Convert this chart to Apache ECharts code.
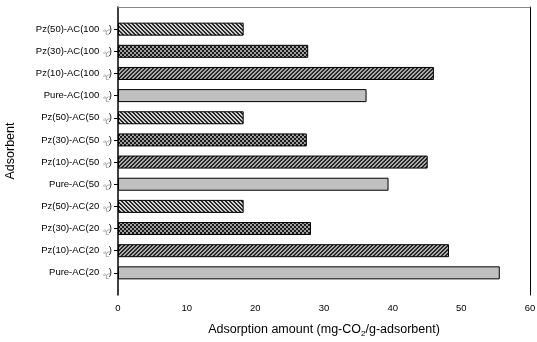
<!DOCTYPE html>
<html>
<head>
<meta charset="utf-8">
<script src="https://cdn.jsdelivr.net/npm/echarts@6/dist/echarts.min.js"></script>
<style>
html, body { margin: 0; padding: 0; background: #fff; }
#main { width: 537px; height: 342px; }
</style>
</head>
<body>
<div id="main"></div>
<script>
// categories, bottom to top
var categories = [
	'Pure-AC(20℃)', 'Pz(10)-AC(20℃)', 'Pz(30)-AC(20℃)', 'Pz(50)-AC(20℃)',
	'Pure-AC(50℃)', 'Pz(10)-AC(50℃)', 'Pz(30)-AC(50℃)', 'Pz(50)-AC(50℃)',
	'Pure-AC(100℃)', 'Pz(10)-AC(100℃)', 'Pz(30)-AC(100℃)', 'Pz(50)-AC(100℃)'
];
var adsorption = [55.6, 48.2, 28.1, 18.3, 39.4, 45.1, 27.5, 18.3, 36.2, 46.0, 27.7, 18.3];
var fillKind = ['pure', 'pz10', 'pz30', 'pz50', 'pure', 'pz10', 'pz30', 'pz50', 'pure', 'pz10', 'pz30', 'pz50'];
var xTicks = [0, 10, 20, 30, 40, 50, 60];

// 패턴 만들기
function makePattern(kind) {
	var c = document.createElement('canvas');
	c.width = 4; c.height = 4;
	var ctx = c.getContext('2d');
	var bg = { pz10: '#a8a8a8', pz30: '#a0a0a0', pz50: '#d0d0d0' }[kind];
	var fg = { pz10: '#2a2a2a', pz30: '#1a1a1a', pz50: '#2a2a2a' }[kind];
	ctx.fillStyle = bg;
	ctx.fillRect(0, 0, 4, 4);
	ctx.fillStyle = fg;
	for (var x = 0; x < 4; x++) {
		for (var y = 0; y < 4; y++) {
			var on = false;
			if (kind === 'pz10') on = ((x + y) % 4) < 2;
			if (kind === 'pz50') on = ((x - y + 8) % 4) < 2;
			if (kind === 'pz30') on = ((Math.floor(x / 2) + Math.floor(y / 2)) % 2) === 0;
			if (on) ctx.fillRect(x, y, 1, 1);
		}
	}
	return { image: c, repeat: 'repeat' };
}

var fills = {
	pure: '#c0c0c0',
	pz10: makePattern('pz10'),
	pz30: makePattern('pz30'),
	pz50: makePattern('pz50')
};

var yData = [''].concat(categories).concat(['']);
var barData = [null].concat(adsorption.map(function (v, i) {
	return { value: v, itemStyle: { color: fills[fillKind[i]] } };
})).concat([null]);

var myChart = echarts.init(document.getElementById('main'));

var option = {
	animation: false,
	grid: { left: 118, right: 7, top: 7, bottom: 47, containLabel: false, outerBoundsMode: 'none' },
	xAxis: [{
		type: 'value',
		min: 0, max: 60, interval: 10,
		name: '{a|Adsorption amount (mg-CO}{s|2}{a|/g-adsorbent)}',
		nameLocation: 'middle',
		nameGap: 27,
		nameTextStyle: {
			rich: {
				a: { fontSize: 12.5, color: '#000', fontFamily: 'Liberation Sans' },
				s: { fontSize: 8, color: '#000', fontFamily: 'Liberation Sans', padding: [8, 0, 0, 0] }
			}
		},
		splitLine: { show: false },
		axisLine: { lineStyle: { color: '#000', width: 1 } },
		axisTick: { length: 4, lineStyle: { color: '#000' } },
		axisLabel: {
			fontSize: 9.5, color: '#000', fontFamily: 'Liberation Sans', margin: 8,
			formatter: function (v) { return xTicks.indexOf(v) >= 0 ? String(v) : ''; }
		}
	}, {
		type: 'value', position: 'top', min: 0, max: 60,
		axisLine: { show: true, lineStyle: { color: '#888' } },
		axisTick: { show: false }, axisLabel: { show: false }, splitLine: { show: false }
	}],
	yAxis: [{
		type: 'category',
		data: yData,
		boundaryGap: false,
		name: 'Adsorbent',
		nameLocation: 'middle',
		nameGap: 101,
		nameTextStyle: { fontSize: 12.5, color: '#000', fontFamily: 'Liberation Sans' },
		axisLine: { lineStyle: { color: '#000', width: 1.5 } },
		axisTick: {
			length: 4, lineStyle: { color: '#000' },
			interval: function (i, v) { return v !== ''; }
		},
		axisLabel: {
			interval: 0, margin: 6,
			formatter: function (v) {
				if (!v) return '';
				var m = v.match(/^(.*\()(\d+)℃\)$/);
				return '{a|' + m[1] + m[2] + ' }{c|℃}{a|)}';
			},
			rich: {
				a: { fontSize: 9.5, color: '#000', fontFamily: 'Liberation Sans' },
				c: { fontSize: 7.5, color: '#888', fontStyle: 'italic', fontFamily: 'Liberation Sans', padding: [8, 0, 0, 0] }
			}
		}
	}, {
		type: 'category', position: 'right', data: yData, boundaryGap: false,
		axisLine: { show: true, onZero: false, lineStyle: { color: '#000' } },
		axisTick: { show: false }, axisLabel: { show: false }, splitLine: { show: false }
	}],
	series: [{
		type: 'bar',
		xAxisIndex: 0,
		yAxisIndex: 0,
		barWidth: 13,
		itemStyle: { borderColor: '#000', borderWidth: 1 },
		data: barData
	}]
};

myChart.setOption(option);
</script>
</body>
</html>
